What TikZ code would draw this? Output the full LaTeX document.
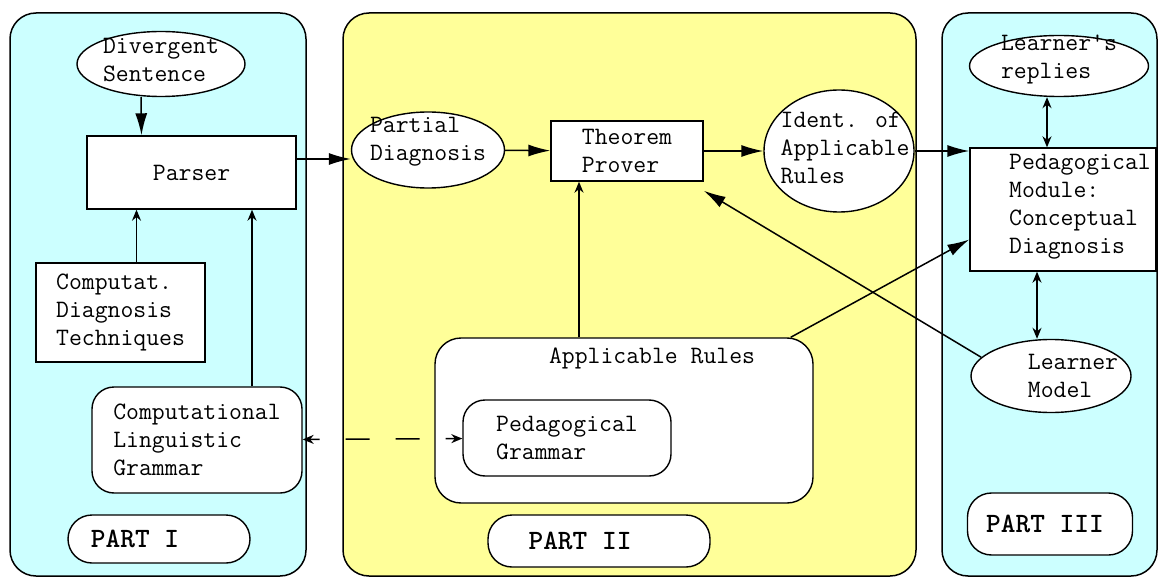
\documentclass[tikz,border=0pt]{standalone}
\usetikzlibrary{arrows.meta}
\usetikzlibrary{shapes.geometric}

\definecolor{partcyan}{RGB}{204,255,255}
\definecolor{partyellow}{RGB}{255,255,153}

\tikzset{
  txt/.style={font=\ttfamily\fontsize{25}{28}\selectfont, align=left, inner sep=0pt},
  parttxt/.style={txt, font=\ttfamily\bfseries\fontsize{28}{30}\selectfont},
  panel/.style={draw, line width=1.5pt, rounded corners=26pt},
  bubble/.style={draw, ellipse, fill=white, line width=1.4pt, inner sep=0pt},
  block/.style={txt, draw, rectangle, fill=white, line width=1.4pt},
  rblock/.style={txt, draw, fill=white, rounded corners=22pt, line width=1.4pt},
  partbox/.style={draw, fill=white, rounded corners=24pt, line width=1.4pt, inner sep=0pt},
  heavy/.style={line width=1.5pt, -{Latex[length=22pt,width=12pt]}},
  lightarrow/.style={line width=1.5pt, -{Stealth[length=11pt,width=9pt]}},
  twoway/.style={line width=1.5pt, {Stealth[length=11pt,width=9pt]}-{Stealth[length=11pt,width=9pt]}},
}

\begin{document}
\begin{tikzpicture}[x=1pt,y=-1pt]
\useasboundingbox (0,0) rectangle (1158,577);
\fill[white] (0,0) rectangle (1158,577);

% the three parts
\draw[panel, fill=partcyan] (10,13) rectangle (306,576);
\draw[panel, fill=partyellow] (343,13) rectangle (916,576);
\draw[panel, fill=partcyan] (942,13) rectangle (1157,576);

% part I
\node[bubble, minimum width=168pt, minimum height=65pt, label={[txt, yshift=4pt]center:{Divergent\\Sentence}}] (divsent) at (161,64) {};
\node[block, minimum width=209pt, minimum height=73pt] (parser) at (191.5,172.5) {Parser};
\node[block, minimum width=169pt, minimum height=99pt] (techniques) at (120.5,312.5) {Computat.\\Diagnosis\\Techniques};
\node[rblock, minimum width=210pt, minimum height=106pt] (clgrammar) at (197,440) {Computational\\Linguistic\\Grammar};
\node[partbox, minimum width=182pt, minimum height=48pt, label={[parttxt, xshift=-24pt]center:{PART I}}] (part1) at (159,539) {};

% part II
\node[bubble, minimum width=153pt, minimum height=76pt, label={[txt, yshift=8pt]center:{Partial\\Diagnosis}}] (partial) at (428,150) {};
\node[block, minimum width=152pt, minimum height=60pt] (prover) at (627,151) {Theorem\\Prover};
\node[bubble, minimum width=150pt, minimum height=122pt, label={[txt, xshift=6pt, yshift=3pt]center:{Ident. of\\Applicable\\Rules}}] (ident) at (839,151) {};
\node[rblock, rounded corners=26pt, minimum width=378pt, minimum height=165pt, label={[txt, anchor=north, xshift=28pt, yshift=-10pt]north:{Applicable Rules}}] (rules) at (624,420.5) {};
\node[rblock, minimum width=208pt, minimum height=76pt] (pedgrammar) at (567,438) {Pedagogical\\Grammar};
\node[partbox, minimum width=222pt, minimum height=52pt, label={[parttxt, xshift=-19pt]center:{PART II}}] (part2) at (599,541) {};

% part III
\node[bubble, minimum width=179pt, minimum height=61pt, label={[txt, yshift=6pt]center:{Learner's\\replies}}] (replies) at (1059,66) {};
\node[block, minimum width=186pt, minimum height=123pt, label={[txt, xshift=17pt, yshift=3pt]center:{Pedagogical\\Module:\\Conceptual\\Diagnosis}}] (pedmodule) at (1063,209.5) {};
\node[bubble, minimum width=160pt, minimum height=73pt, label={[txt, xshift=22pt]center:{Learner\\Model}}] (lmodel) at (1051,376) {};
\node[partbox, minimum width=165pt, minimum height=62pt, label={[parttxt, xshift=-5pt]center:{PART III}}] (part3) at (1050,524) {};

% main flow
\draw[heavy] ([xshift=-20pt]divsent.south) -- ([xshift=-50pt]parser.north);
\draw[heavy] ([yshift=13.5pt]parser.east) -- ([yshift=-9pt]partial.west);
\draw[heavy] (partial) -- (prover);
\draw[heavy] (prover) -- (ident);
\draw[heavy] (ident.east) -- (ident.east -| pedmodule.west);
\draw[heavy] ([xshift=-23pt]rules.north east) -- ([yshift=-30pt]pedmodule.west);
\draw[heavy] (lmodel.165) -- ([yshift=-9pt]prover.south east);

% knowledge sources
\draw[lightarrow] ([xshift=16pt]techniques.north) -- ([xshift=16pt]techniques.north |- parser.south);
\draw[lightarrow] ([xshift=55pt]clgrammar.north) -- ([xshift=55pt]clgrammar.north |- parser.south);
\draw[lightarrow] ([xshift=-45pt]rules.north) -- ([xshift=-45pt]rules.north |- prover.south);
\draw[twoway] ([xshift=-12pt]replies.south) -- ([xshift=-12pt]replies.south |- pedmodule.north);
\draw[twoway] ([xshift=-26pt]pedmodule.south) -- ([xshift=-26pt]pedmodule.south |- lmodel.north);
\draw[twoway, dash pattern=on 24pt off 26pt, dash phase=14pt] (clgrammar) -- (pedgrammar);

\end{tikzpicture}
\end{document}
